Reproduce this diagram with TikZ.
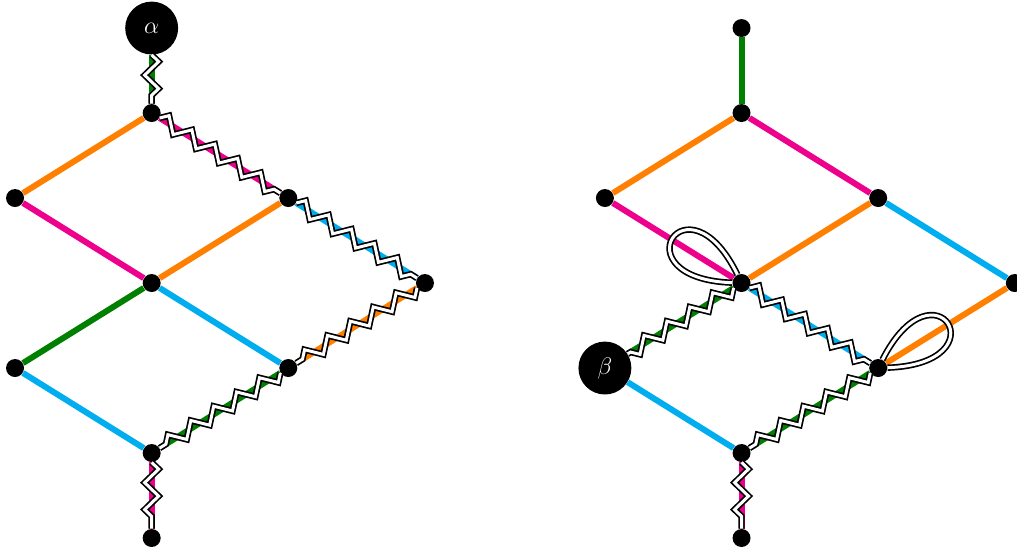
\documentclass[tikz,border=0pt]{standalone}
\usetikzlibrary{decorations.pathmorphing}
\definecolor{lineorange}{HTML}{FF8000}
\definecolor{linemagenta}{HTML}{EC008C}
\definecolor{linecyan}{HTML}{00AEEF}
\definecolor{linegreen}{HTML}{008000}

\begin{document}
\begin{tikzpicture}[x=2.405cm,y=1.496cm,
 vtx/.style={circle,fill=black,inner sep=0pt,minimum size=9pt},
 big/.style={circle,fill=black,text=white,inner sep=0pt,minimum size=26.5pt,font=\large},
 col/.style={line width=3pt,draw=#1},
 wire/.style={draw=black,double=white,line width=0.85pt,double distance=1.5pt},
 zz/.style={wire,decorate,decoration={zigzag,amplitude=3.5pt,segment length=13.5pt}}]
\useasboundingbox (-0.11,0.33) rectangle (7.333,-6.153);
% left graph
\node[big] (a) at (1,0) {$\alpha$};
\foreach \n/\x/\y in {l1/1/1,l2/0/2,l3/2/2,l4/1/3,l5/3/3,l6/0/4,l7/2/4,l8/1/5,l9/1/6}
\node[vtx] (\n) at (\x,-\y) {};
% right graph
\node[big] (b) at (4.317,-4) {$\beta$};
\foreach \n/\x/\y in {r0/1/0,r1/1/1,r2/0/2,r3/2/2,r4/1/3,r5/3/3,r7/2/4,r8/1/5,r9/1/6}
\node[vtx] (\n) at (\x+4.317,-\y) {};
% coloured edges
\foreach \p/\q/\c in {a/l1/linegreen,l1/l2/lineorange,l1/l3/linemagenta,l2/l4/linemagenta,
 l3/l4/lineorange,l3/l5/linecyan,l4/l6/linegreen,l4/l7/linecyan,l5/l7/lineorange,
 l6/l8/linecyan,l7/l8/linegreen,l8/l9/linemagenta,
 r0/r1/linegreen,r1/r2/lineorange,r1/r3/linemagenta,r2/r4/linemagenta,r3/r4/lineorange,
 r3/r5/linecyan,r4/b/linegreen,r4/r7/linecyan,r5/r7/lineorange,b/r8/linecyan,
 r7/r8/linegreen,r8/r9/linemagenta}
\draw[col=\c] (\p) -- (\q);
% zigzags
\foreach \p/\q in {a/l1,l1/l3,l3/l5,l5/l7,l7/l8,l8/l9,r4/b,r4/r7,r7/r8,r8/r9}
\draw[zz] (\p) -- (\q);
% loops
\draw[wire] (r4) .. controls +(116:2.2cm) and +(178:2.2cm) .. (r4);
\draw[wire] (r7) .. controls +(2:2.2cm) and +(63:2.2cm) .. (r7);
\end{tikzpicture}
\end{document}
